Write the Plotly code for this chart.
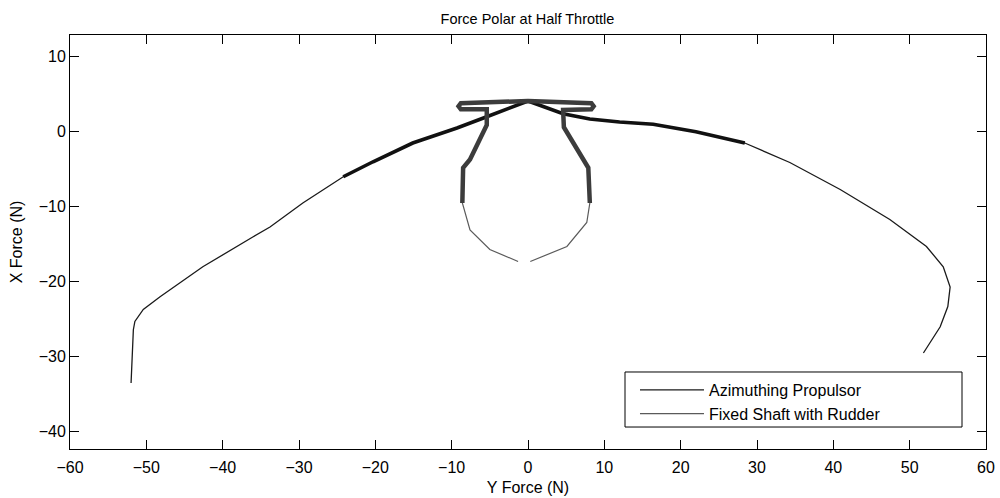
import plotly.graph_objects as go

# Azimuthing propulsor polar: Y force (N) vs X force (N)
azi_y = [-52.0, -51.7, -51.5, -50.4, -48.2, -42.6, -36.0, -33.8, -29.5, -24.2,
         -20.3, -15.1, -9.3, -5.4, -0.7, 0.0, 4.6, 8.1, 12.0, 16.4, 22.0, 28.4,
         34.3, 40.9, 47.4, 52.2, 54.4, 55.3, 55.0, 54.0, 51.8]
azi_x = [-33.5, -26.4, -25.3, -23.7, -22.0, -18.0, -14.0, -12.7, -9.5, -6.0,
         -4.0, -1.5, 0.5, 2.0, 3.9, 4.1, 2.4, 1.7, 1.3, 1.0, 0.0, -1.5,
         -4.1, -7.7, -11.7, -15.3, -18.0, -20.7, -23.3, -26.0, -29.5]
# index range of the densely sampled (heavy) stretch
azi_heavy = (9, 21)

# Fixed shaft with rudder polar
rud_y = [0.3, 5.1, 7.7, 8.1, 7.9, 4.7, 4.6, 8.3, 8.6, 8.3, 0.0, -8.8, -9.1,
         -8.8, -5.4, -5.4, -7.6, -8.5, -8.6, -7.6, -5.0, -1.3]
rud_x = [-17.3, -15.3, -12.1, -9.5, -4.8, 0.6, 2.9, 3.0, 3.4, 3.8, 4.1, 3.8,
         3.4, 3.0, 3.0, 0.9, -3.7, -4.8, -9.5, -13.1, -15.7, -17.3]
rud_heavy = (3, 18)

x_ticks = [-60, -50, -40, -30, -20, -10, 0, 10, 20, 30, 40, 50, 60]
y_ticks = [-40, -30, -20, -10, 0, 10]

FONT = "Liberation Sans, Arial, Helvetica, sans-serif"

fig = go.Figure()

fig.add_trace(go.Scatter(
    x=azi_y, y=azi_x, mode="lines", name="Azimuthing Propulsor",
    legendgroup="azi", line=dict(color="#1a1a1a", width=1.3)))
a0, a1 = azi_heavy
fig.add_trace(go.Scatter(
    x=azi_y[a0:a1 + 1], y=azi_x[a0:a1 + 1], mode="lines",
    legendgroup="azi", showlegend=False, hoverinfo="skip",
    line=dict(color="#111111", width=3.6)))

fig.add_trace(go.Scatter(
    x=rud_y, y=rud_x, mode="lines", name="Fixed Shaft with Rudder",
    legendgroup="rud", line=dict(color="#5a5a5a", width=1.2)))
r0, r1 = rud_heavy
fig.add_trace(go.Scatter(
    x=rud_y[r0:r1 + 1], y=rud_x[r0:r1 + 1], mode="lines",
    legendgroup="rud", showlegend=False, hoverinfo="skip",
    line=dict(color="#3c3c3c", width=4.5)))

axis_common = dict(
    showgrid=False, zeroline=False, showline=True, linecolor="black",
    linewidth=1, mirror="ticks", ticks="inside", ticklen=9, tickwidth=1,
    tickcolor="black", tickfont=dict(family=FONT, size=16, color="black"),
    automargin=False,
)

fig.update_xaxes(range=[-60, 60], tickvals=x_ticks, ticklabelstandoff=4,
                 title=dict(text="Y Force (N)", font=dict(family=FONT, size=16, color="black"),
                            standoff=6),
                 **axis_common)
fig.update_yaxes(range=[-42.3, 12.9], tickvals=y_ticks,
                 title=dict(text="X Force (N)", font=dict(family=FONT, size=16, color="black"),
                            standoff=12),
                 **axis_common)

# legend frame (wider than the entries, as in MATLAB's legend box)
fig.add_shape(type="rect", xref="paper", yref="paper",
              x0=0.6059, x1=0.9738, y0=0.0531, y1=0.186,
              line=dict(color="black", width=1), fillcolor="white", layer="above")

fig.update_layout(
    width=1000, height=498,
    margin=dict(l=70, r=14, t=35, b=49),
    paper_bgcolor="white", plot_bgcolor="white",
    title=dict(text="Force Polar at Half Throttle", x=0.5275, xanchor="center",
               y=0.962, yanchor="middle",
               font=dict(family=FONT, size=14.5, color="black")),
    showlegend=True,
    legend=dict(x=0.6168, y=0.1135, xanchor="left", yanchor="middle",
                bgcolor="rgba(0,0,0,0)", borderwidth=0,
                font=dict(family=FONT, size=16, color="black"),
                itemwidth=64, tracegroupgap=0),
)

fig.write_html("out.html")
